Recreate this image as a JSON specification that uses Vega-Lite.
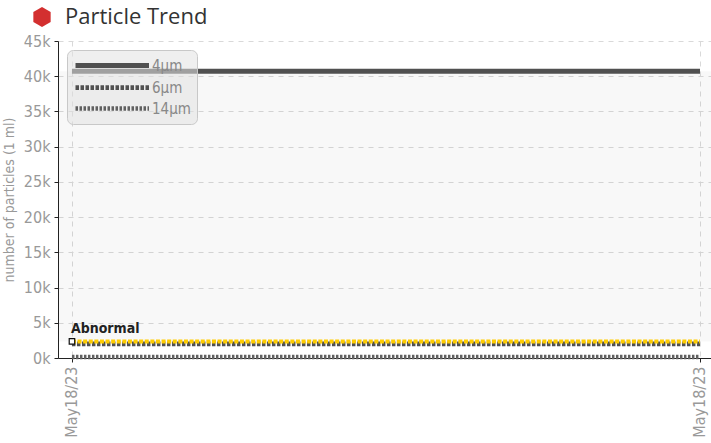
{
  "$schema": "https://vega.github.io/schema/vega-lite/v6.json",
  "width": 653,
  "height": 317,
  "autosize": {"type": "none"},
  "padding": {"left": 58, "top": 41, "right": 0, "bottom": 85},
  "background": "white",
  "config": {
    "view": {"stroke": null},
    "axis": {
      "labelFont": "DejaVu Sans Condensed, Liberation Sans Narrow, Roboto",
      "titleFont": "DejaVu Sans Condensed, Liberation Sans Narrow, Roboto",
      "labelColor": "#999999",
      "titleColor": "#999999",
      "domainColor": "#222222",
      "tickColor": "#222222",
      "gridColor": "#d9d9d9",
      "gridDash": [5, 5]
    },
    "axisY": {
      "tickCount": 12,
      "labelOverlap": false,
      "labelFontSize": 16,
      "labelPadding": 4,
      "tickSize": 4,
      "titleFontSize": 14,
      "titleFontWeight": "normal",
      "titlePadding": 7
    }
  },
  "datasets": {
    "particles": [
      {"time": "2023-05-18T00:00:00", "size": "4µm", "count": 40700},
      {"time": "2023-05-18T12:00:00", "size": "4µm", "count": 40700},
      {"time": "2023-05-18T00:00:00", "size": "6µm", "count": 2000},
      {"time": "2023-05-18T12:00:00", "size": "6µm", "count": 2000},
      {"time": "2023-05-18T00:00:00", "size": "14µm", "count": 150},
      {"time": "2023-05-18T12:00:00", "size": "14µm", "count": 150}
    ],
    "abnormal": [
      {"time": "2023-05-18T00:00:00", "count": 2350, "label": "Abnormal"},
      {"time": "2023-05-18T12:00:00", "count": 2350, "label": "Abnormal"}
    ],
    "band": [
      {"count": 2350, "high": 40700}
    ],
    "badge": [
      {"badge": "Particle Trend"}
    ]
  },
  "encoding": {
    "y": {
      "field": "count",
      "type": "quantitative",
      "scale": {"domain": [0, 45000], "nice": false},
      "axis": {
        "title": "number of particles (1 ml)",
        "values": [0, 5000, 10000, 15000, 20000, 25000, 30000, 35000, 40000, 45000],
        "tickCount": 12,
        "labelExpr": "datum.value / 1000 + 'k'",
        "grid": true
      }
    }
  },
  "layer": [
    {
      "data": {"name": "band"},
      "mark": {"type": "rect", "fill": "#000000", "fillOpacity": 0.027},
      "encoding": {
        "y2": {"field": "high"}
      }
    },
    {
      "data": {"name": "particles"},
      "mark": {"type": "line", "strokeCap": "butt"},
      "encoding": {
        "x": {
          "field": "time",
          "type": "temporal",
          "scale": {
            "domain": [
              {"year": 2023, "month": 5, "date": 17, "hours": 23, "minutes": 44},
              {"year": 2023, "month": 5, "date": 18, "hours": 12, "minutes": 12, "seconds": 37}
            ]
          },
          "axis": {
            "title": null,
            "values": [
              {"year": 2023, "month": 5, "date": 18, "hours": 0},
              {"year": 2023, "month": 5, "date": 18, "hours": 12}
            ],
            "format": "%b%d/%y",
            "labelAngle": 270,
            "labelFontSize": 16,
            "labelPadding": 4,
            "labelOverlap": false,
            "tickSize": 4,
            "grid": true
          }
        },
        "color": {
          "field": "size",
          "type": "nominal",
          "scale": {"domain": ["4µm", "6µm", "14µm"], "range": ["#505050", "#505050", "#606060"]},
          "legend": {
            "title": null,
            "orient": "top-left",
            "offset": 9,
            "symbolType": "M-1,0H9.5",
            "symbolSize": 196,
            "labelOffset": 60,
            "labelFont": "DejaVu Sans Condensed, Liberation Sans Narrow, Roboto",
            "labelFontSize": 15,
            "labelColor": "#888888",
            "rowPadding": 2,
            "padding": 6,
            "fillColor": "rgba(225,225,225,0.55)",
            "strokeColor": "#c8c8c8",
            "cornerRadius": 6
          }
        },
        "strokeDash": {
          "field": "size",
          "type": "nominal",
          "scale": {"domain": ["4µm", "6µm", "14µm"], "range": [[1, 0], [3.5, 1.5], [2.5, 1.5]]}
        },
        "strokeWidth": {
          "field": "size",
          "type": "nominal",
          "scale": {"domain": ["4µm", "6µm", "14µm"], "range": [5, 4.5, 3]}
        }
      }
    },
    {
      "data": {"name": "abnormal"},
      "mark": {"type": "line", "color": "#ffcc00", "strokeWidth": 4, "strokeDash": [4, 1.6], "strokeCap": "butt"},
      "encoding": {
        "x": {"field": "time", "type": "temporal"}
      }
    },
    {
      "data": {"name": "abnormal"},
      "transform": [{"filter": "hours(datum.time) == 0"}],
      "mark": {"type": "point", "shape": "square", "filled": true, "fill": "white", "stroke": "#111111", "strokeWidth": 1.2, "size": 30, "opacity": 1},
      "encoding": {
        "x": {"field": "time", "type": "temporal"}
      }
    },
    {
      "data": {"name": "abnormal"},
      "transform": [{"filter": "hours(datum.time) == 0"}],
      "mark": {"type": "text", "align": "left", "baseline": "bottom", "dx": -1, "dy": -5, "font": "DejaVu Sans Condensed, Liberation Sans Narrow, Roboto", "fontSize": 14, "fontWeight": "bold", "color": "#222222"},
      "encoding": {
        "x": {"field": "time", "type": "temporal"},
        "text": {"field": "label"}
      }
    },
    {
      "data": {"name": "badge"},
      "mark": {"type": "point", "filled": true, "fill": "#d32f2f", "opacity": 0},
      "encoding": {
        "y": {"value": 0},
        "shape": {
          "field": "badge",
          "type": "nominal",
          "scale": {"range": ["M0,-1L0.866,-0.5L0.866,0.5L0,1L-0.866,0.5L-0.866,-0.5Z"]},
          "legend": {
            "title": null,
            "orient": "none",
            "legendX": -27,
            "legendY": -35,
            "padding": 0,
            "symbolSize": 400,
            "symbolFillColor": "#d32f2f",
            "symbolStrokeWidth": 0,
            "symbolOpacity": 1,
            "labelOffset": 12,
            "labelLimit": 400,
            "labelFont": "Open Sans",
            "labelFontSize": 22,
            "labelColor": "#333333"
          }
        }
      }
    }
  ]
}
